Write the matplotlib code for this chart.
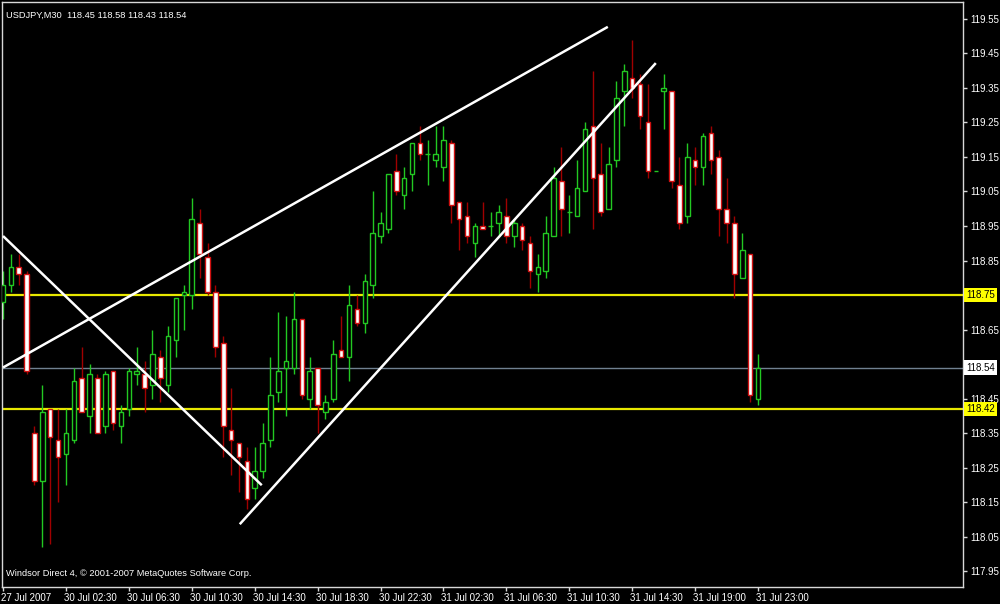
import matplotlib.pyplot as plt
import matplotlib.transforms as mtransforms
import numpy as np

# USDJPY M30 bars (oldest first)
opens = [118.73, 118.78, 118.83, 118.81, 118.35, 118.21, 118.42, 118.33, 118.29, 118.33,
         118.51, 118.40, 118.51, 118.37, 118.53, 118.37, 118.42, 118.52, 118.52, 118.49,
         118.57, 118.49, 118.62, 118.75, 118.75, 118.96, 118.86, 118.76, 118.61, 118.36,
         118.32, 118.27, 118.19, 118.24, 118.33, 118.47, 118.54, 118.54, 118.68, 118.45,
         118.54, 118.41, 118.45, 118.59, 118.57, 118.71, 118.67, 118.78, 118.92, 118.94,
         119.11, 119.04, 119.10, 119.19, 119.16, 119.14, 119.12, 119.19, 119.02, 118.98,
         118.90, 118.95, 118.95, 118.96, 118.98, 118.92, 118.95, 118.90, 118.81, 118.82,
         118.92, 119.08, 118.99, 118.98, 119.05, 119.24, 119.10, 119.00, 119.14, 119.34,
         119.38, 119.36, 119.25, 119.11, 119.34, 119.34, 119.07, 118.98, 119.14, 119.12,
         119.22, 119.15, 119.00, 118.96, 118.80, 118.87, 118.45]
highs = [118.82, 118.87, 118.87, 118.82, 118.37, 118.49, 118.42, 118.42, 118.42, 118.54,
         118.60, 118.55, 118.52, 118.53, 118.53, 118.43, 118.54, 118.60, 118.56, 118.65,
         118.59, 118.66, 118.74, 118.78, 119.03, 119.00, 118.90, 118.78, 118.63, 118.48,
         118.32, 118.31, 118.31, 118.38, 118.57, 118.70, 118.69, 118.76, 118.68, 118.57,
         118.54, 118.46, 118.62, 118.69, 118.78, 118.75, 118.81, 119.05, 118.99, 119.10,
         119.16, 119.12, 119.19, 119.24, 119.20, 119.24, 119.24, 119.20, 119.02, 119.02,
         118.96, 119.02, 118.99, 119.01, 119.03, 118.97, 118.96, 118.92, 118.87, 118.98,
         119.12, 119.18, 119.04, 119.14, 119.25, 119.40, 119.19, 119.18, 119.37, 119.42,
         119.49, 119.39, 119.36, 119.11, 119.39, 119.34, 119.15, 119.19, 119.18, 119.22,
         119.24, 119.17, 119.09, 118.98, 118.93, 118.87, 118.58]
lows = [118.68, 118.76, 118.78, 118.52, 118.20, 118.02, 118.03, 118.15, 118.20, 118.32,
        118.41, 118.35, 118.35, 118.35, 118.36, 118.32, 118.40, 118.49, 118.41, 118.45,
        118.44, 118.47, 118.57, 118.65, 118.71, 118.80, 118.75, 118.57, 118.28, 118.23,
        118.18, 118.13, 118.16, 118.22, 118.31, 118.44, 118.40, 118.52, 118.45, 118.42,
        118.35, 118.39, 118.44, 118.57, 118.50, 118.66, 118.64, 118.74, 118.90, 118.93,
        119.04, 119.00, 119.05, 119.14, 119.07, 119.12, 119.08, 118.96, 118.88, 118.90,
        118.86, 118.94, 118.92, 118.92, 118.90, 118.89, 118.88, 118.77, 118.76, 118.80,
        118.92, 118.92, 118.93, 118.98, 119.05, 118.94, 118.98, 119.00, 119.12, 119.24,
        119.32, 119.23, 119.09, 119.11, 119.23, 119.06, 118.94, 118.96, 119.07, 119.07,
        119.10, 118.92, 118.90, 118.74, 118.80, 118.44, 118.43]
closes = [118.78, 118.83, 118.81, 118.53, 118.21, 118.41, 118.34, 118.28, 118.35, 118.50,
          118.41, 118.52, 118.35, 118.52, 118.38, 118.41, 118.53, 118.53, 118.48, 118.58,
          118.51, 118.63, 118.74, 118.76, 118.97, 118.87, 118.76, 118.60, 118.37, 118.33,
          118.28, 118.16, 118.24, 118.32, 118.46, 118.53, 118.56, 118.68, 118.46, 118.53,
          118.43, 118.44, 118.58, 118.57, 118.72, 118.67, 118.79, 118.93, 118.96, 119.10,
          119.05, 119.09, 119.19, 119.16, 119.16, 119.16, 119.20, 119.01, 118.97, 118.92,
          118.95, 118.94, 118.95, 118.99, 118.92, 118.96, 118.91, 118.82, 118.83, 118.93,
          119.09, 119.00, 118.99, 119.06, 119.23, 119.09, 118.99, 119.13, 119.32, 119.40,
          119.35, 119.27, 119.11, 119.11, 119.35, 119.08, 118.96, 119.15, 119.12, 119.21,
          119.14, 119.00, 118.96, 118.81, 118.88, 118.46, 118.54]

tick_bars = [0, 8, 16, 24, 32, 40, 48, 56, 64, 72, 80, 88, 96]
tick_labels = ['27 Jul 2007', '30 Jul 02:30', '30 Jul 06:30', '30 Jul 10:30', '30 Jul 14:30',
               '30 Jul 18:30', '30 Jul 22:30', '31 Jul 02:30', '31 Jul 06:30', '31 Jul 10:30',
               '31 Jul 14:30', '31 Jul 19:00', '31 Jul 23:00']
price_ticks = np.round(np.arange(117.95, 119.56, 0.10), 2)

# horizontal levels drawn on the chart
yellow_levels = [118.75, 118.42]
bid_level = 118.54

# trend lines: (bar, price) start and end
trend_lines = [((0.0, 118.54), (76.9, 119.527)),
               ((0.0, 118.921), (32.9, 118.199)),
               ((30.1, 118.086), (83.0, 119.422))]

BULL = '#22c822'
BEAR_EDGE = '#d01010'
BEAR_WICK = '#a00000'
FONT = 'Liberation Sans'

o = np.array(opens)
h = np.array(highs)
l = np.array(lows)
c = np.array(closes)
x = np.arange(len(o))
up = c >= o

fig = plt.figure(figsize=(10, 6.04), dpi=100, facecolor='black')
ax = fig.add_axes([0.002, 0.0281, 0.961, 0.9686])
ax.set_facecolor('black')

for lv in yellow_levels:
    ax.axhline(lv, color='#e8e800', lw=1.6, zorder=1)
ax.axhline(bid_level, color='#708090', lw=1.0, zorder=1)

# wicks
ax.vlines(x[up], l[up], h[up], color=BULL, lw=1.0, zorder=2)
ax.vlines(x[~up], l[~up], h[~up], color=BEAR_WICK, lw=1.0, zorder=2)

# bodies
bw = 0.58
ax.bar(x[up], (c - o)[up], bottom=o[up], width=bw, color='black',
       edgecolor=BULL, linewidth=1.0, zorder=3)
ax.bar(x[~up], (o - c)[~up], bottom=c[~up], width=bw, color='white',
       edgecolor=BEAR_EDGE, linewidth=1.0, zorder=3)

for (x0, y0), (x1, y1) in trend_lines:
    ax.plot([x0, x1], [y0, y1], color='white', lw=1.8, zorder=4,
            solid_capstyle='butt')

ax.set_xlim(-0.13, 122.06)
ax.set_ylim(117.904, 119.599)

for s in ax.spines.values():
    s.set_color('#d8d8d8')
    s.set_linewidth(1.0)

# labels hidden behind the price boxes are left blank
covered = {f'{v:.2f}' for v in yellow_levels} | {f'{bid_level + 0.01:.2f}'}
ax.yaxis.tick_right()
ax.set_yticks(price_ticks)
ax.set_yticklabels(['' if f'{p:.2f}' in covered else f'{p:.2f}' for p in price_ticks])
ax.tick_params(axis='y', colors='#d8d8d8', labelcolor='white', length=3,
               width=1, pad=2, labelsize=7)
ax.set_xticks(tick_bars)
ax.set_xticklabels(tick_labels)
ax.tick_params(axis='x', colors='#d8d8d8', labelcolor='white', length=3,
               width=1, pad=1, labelsize=7)
for lab in ax.get_xticklabels():
    lab.set_horizontalalignment('left')
    lab.set_fontfamily(FONT)
    lab.set_transform(lab.get_transform() + mtransforms.ScaledTranslation(-2 / 100, 0, fig.dpi_scale_trans))
for lab in ax.get_yticklabels():
    lab.set_fontfamily(FONT)

# price boxes on the right scale
trans = mtransforms.blended_transform_factory(ax.transAxes, ax.transData)
for lv in yellow_levels:
    ax.text(1.0035, lv, f'{lv:.2f}', transform=trans, fontsize=7, family=FONT,
            color='black', va='center', ha='left', zorder=6, clip_on=False,
            bbox=dict(boxstyle='square,pad=0.22', fc='#ffff00', ec='none'))
ax.text(1.0035, bid_level, f'{bid_level:.2f}', transform=trans, fontsize=7, family=FONT,
        color='black', va='center', ha='left', zorder=6, clip_on=False,
        bbox=dict(boxstyle='square,pad=0.22', fc='white', ec='none'))

ax.text(0.004, 0.985, f'USDJPY,M30  {opens[-1]:.2f} {highs[-1]:.2f} {lows[-1]:.2f} {closes[-1]:.2f}',
        transform=ax.transAxes, fontsize=6.7, family=FONT, color='white', va='top', ha='left')
ax.text(0.004, 0.016, 'Windsor Direct 4, \u00a9 2001-2007 MetaQuotes Software Corp.',
        transform=ax.transAxes, fontsize=6.7, family=FONT, color='white', va='bottom', ha='left')

fig.savefig('out.png', dpi=100, facecolor='black')
